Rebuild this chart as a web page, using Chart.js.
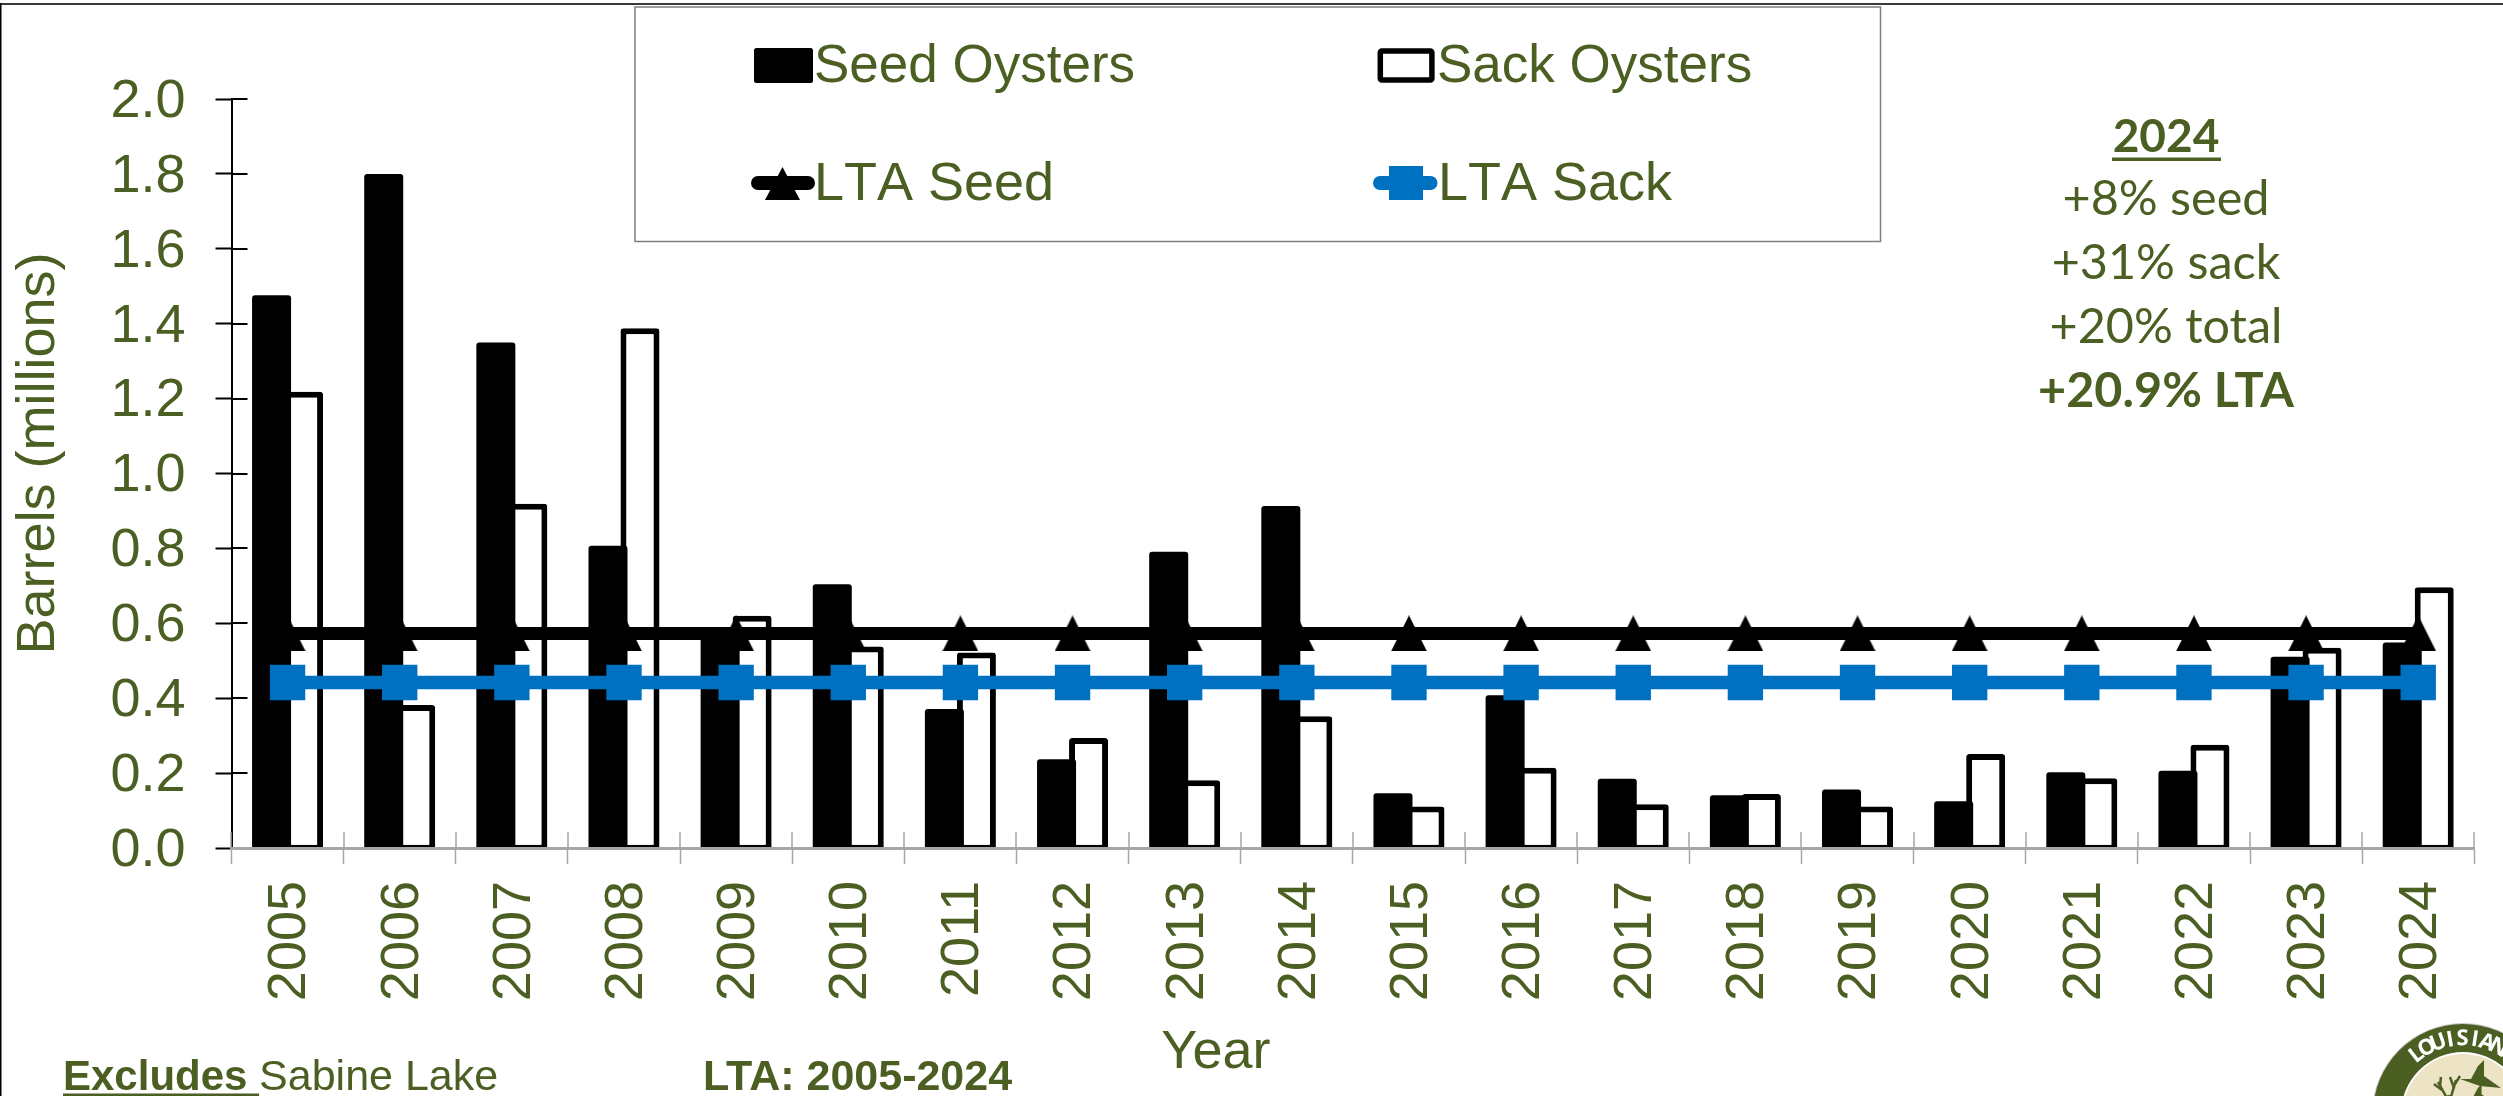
<!DOCTYPE html>
<html><head><meta charset="utf-8">
<style>html,body{margin:0;padding:0;background:#fff}canvas{display:block}</style>
<script src="https://cdn.jsdelivr.net/npm/chart.js@4"></script>
</head><body><canvas id="c" width="2503" height="1096" style="width:2503px;height:1096px"></canvas>
<script>
const years = ['2005','2006','2007','2008','2009','2010','2011','2012','2013','2014','2015','2016','2017','2018','2019','2020','2021','2022','2023','2024'];
const seedOysters = [1.476,1.80,1.35,0.807,0.58,0.704,0.371,0.237,0.791,0.913,0.146,0.408,0.185,0.141,0.156,0.125,0.202,0.206,0.511,0.549];
const sackOysters = [1.218,0.382,0.919,1.388,0.62,0.538,0.522,0.294,0.181,0.352,0.111,0.214,0.117,0.144,0.111,0.251,0.186,0.276,0.535,0.696];
const ltaSeed = [0.573,0.573,0.573,0.573,0.573,0.573,0.573,0.573,0.573,0.573,0.573,0.573,0.573,0.573,0.573,0.573,0.573,0.573,0.573,0.573];
const ltaSack = [0.442,0.442,0.442,0.442,0.442,0.442,0.442,0.442,0.442,0.442,0.442,0.442,0.442,0.442,0.442,0.442,0.442,0.442,0.442,0.442];
const yTicks = [0,0.2,0.4,0.6,0.8,1.0,1.2,1.4,1.6,1.8,2.0];
const seriesNames = ['Seed Oysters','Sack Oysters','LTA Seed','LTA Sack'];
const summaryLines = ['2024','+8% seed','+31% sack','+20% total','+20.9% LTA'];
const OLIVE = '#4B5F22', BLUE = '#0070C0', GREY = '#A6A6A6';
const SANS = '"Liberation Sans", Arial, sans-serif';

function triangleSprite(w, h) {
  const s = document.createElement('canvas'); s.width = w; s.height = h;
  const g = s.getContext('2d'); g.fillStyle = '#000';
  g.beginPath(); g.moveTo(w/2,0); g.lineTo(w,h); g.lineTo(0,h); g.closePath(); g.fill();
  return s;
}
const tri = triangleSprite(36,36);

function shiftTitle(scale, dx, dy) {
  if (scale.__shifted) return; scale.__shifted = true;
  const orig = scale.drawTitle;
  scale.drawTitle = function () { const c = this.ctx; c.save(); c.translate(dx, dy); orig.call(this); c.restore(); };
}

const decorations = {
  id: 'decorations',
  beforeDraw(chart) {
    const c = chart.ctx;
    c.save();
    c.fillStyle = '#fff'; c.fillRect(0,0,chart.width,chart.height);
    c.fillStyle = '#3a3a3a'; c.fillRect(0,3,chart.width,2);
    c.fillStyle = '#000'; c.fillRect(0,3,1.5,chart.height);
    c.restore();
    shiftTitle(chart.scales.x, -137, -10);
    shiftTitle(chart.scales.y, 7, -20);
  },
  beforeDatasetsDraw(chart) {
    const c = chart.ctx, {x, y} = chart.scales;
    c.save();
    c.strokeStyle = GREY; c.lineWidth = 1.5;
    const half = (x.getPixelForValue(1) - x.getPixelForValue(0)) / 2;
    years.forEach((_, i) => {
      const px = Math.round(x.getPixelForValue(i) - half);
      c.beginPath(); c.moveTo(px, y.bottom); c.lineTo(px, y.bottom - 16); c.stroke();
    });
    const last = Math.round(x.getPixelForValue(years.length-1) + half);
    c.beginPath(); c.moveTo(last, y.bottom); c.lineTo(last, y.bottom - 16); c.stroke();
    c.strokeStyle = '#000'; c.lineWidth = 2;
    yTicks.forEach(v => { if (v === 0) return;
      const py = Math.round(y.getPixelForValue(v));
      c.beginPath(); c.moveTo(x.left, py); c.lineTo(x.left + 16, py); c.stroke();
    });
    c.restore();
  },
  afterDraw(chart) {
    const c = chart.ctx;
    c.save();
    c.fillStyle = '#fff'; c.fillRect(635,7,1245.5,234.5);
    c.strokeStyle = '#7f7f7f'; c.lineWidth = 1.5; c.strokeRect(635,7,1245.5,234.5);
    c.fillStyle = '#000';
    c.beginPath(); c.roundRect(754,48,59,35,2.5); c.fill();
    c.strokeStyle = '#000'; c.lineWidth = 5.5; c.fillStyle = '#fff';
    c.beginPath(); c.roundRect(1380.3,51,51.6,29,1.5); c.fill(); c.stroke();
    c.lineCap = 'round'; c.lineWidth = 14;
    c.strokeStyle = '#000'; c.beginPath(); c.moveTo(758,183); c.lineTo(808,183); c.stroke();
    c.fillStyle = '#000'; c.beginPath(); c.moveTo(782.5,167); c.lineTo(800,200); c.lineTo(765,200); c.closePath(); c.fill();
    c.strokeStyle = BLUE; c.beginPath(); c.moveTo(1380,183); c.lineTo(1430.5,183); c.stroke();
    c.fillStyle = BLUE; c.fillRect(1389,166,34,34);
    c.lineCap = 'butt';
    c.fillStyle = OLIVE; c.textAlign = 'left'; c.textBaseline = 'alphabetic';
    c.font = '53px ' + SANS;
    c.fillText(seriesNames[0], 814, 82);
    c.fillText(seriesNames[1], 1437, 82);
    c.font = '54px ' + SANS; c.fontKerning = 'none';
    c.fillText(seriesNames[2], 814, 200);
    c.fillText(seriesNames[3], 1438, 200);
    c.fontKerning = 'auto';
    c.textAlign = 'center';
    const sx = 2166, base = [152,215,279,343,407];
    summaryLines.forEach((t, i) => {
      c.font = (i === 0 ? '700 46px' : i === 4 ? '700 48.5px' : '400 48.5px') + ' Lato, "Open Sans", sans-serif';
      c.fillText(t, sx, base[i]);
    });
    c.fillRect(2112,157.5,109,3.5);
    c.textAlign = 'left';
    c.font = '700 42px ' + SANS; c.fillText('Excludes ', 63, 1090);
    const w = c.measureText('Excludes ').width;
    c.fillRect(63,1093.5,w,2.5);
    c.font = '400 43px ' + SANS; c.fillText('Sabine Lake', 63 + w, 1090);
    c.font = '700 43px ' + SANS; c.fillText('LTA: 2005-2024', 703, 1090);
    const cx = 2463, cy = 1114;
    c.fillStyle = '#c9c9c9'; c.beginPath(); c.arc(cx,cy,91,0,Math.PI*2); c.fill();
    c.fillStyle = OLIVE; c.beginPath(); c.arc(cx,cy,90,0,Math.PI*2); c.fill();
    c.fillStyle = '#fff'; c.beginPath(); c.arc(cx,cy,62,0,Math.PI*2); c.fill();
    c.fillStyle = '#EDE3C5'; c.beginPath(); c.arc(cx,cy,60,0,Math.PI*2); c.fill();
    c.fillStyle = '#fff'; c.font = '700 22px "Open Sans", sans-serif'; c.textAlign = 'center'; c.textBaseline = 'middle';
    'LOUISIANA'.split('').forEach((ch, i) => {
      const a = (-38 + i * 9.4) * Math.PI / 180;
      c.save(); c.translate(cx + 75*Math.sin(a), cy - 75*Math.cos(a)); c.rotate(a); c.fillText(ch,0,0); c.restore();
    });
    c.fillStyle = OLIVE; c.strokeStyle = OLIVE;
    const duck = (x,y,s) => { c.beginPath();
      c.moveTo(x-15*s,y-3*s); c.lineTo(x-4*s,y-3*s); c.lineTo(x+3*s,y-16*s); c.lineTo(x+9*s,y-22*s); c.lineTo(x+9*s,y-6*s);
      c.lineTo(x+26*s,y+6*s); c.lineTo(x+5*s,y+4*s); c.closePath(); c.fill(); };
    duck(2475,1082,1); duck(2476,1098,0.62);
    c.lineWidth = 2.5;
    [[2448,1100,2438,1082],[2442,1090,2434,1084],[2440,1086,2441,1077],[2450,1100,2456,1080],[2454,1088,2450,1077],[2455,1084,2460,1076]].forEach(p => {
      c.beginPath(); c.moveTo(p[0],p[1]); c.lineTo(p[2],p[3]); c.stroke(); });
    c.beginPath(); c.ellipse(2449,1104,7,9,0,0,Math.PI*2); c.fill();
    c.restore();
  }
};

new Chart(document.getElementById('c'), {
  type: 'bar',
  plugins: [decorations],
  data: {
    labels: years,
    datasets: [
      { label: seriesNames[0], data: seedOysters, order: 3, backgroundColor:'#000', borderColor:'#000',
        borderWidth: 0, borderSkipped:false, borderRadius:{topLeft:3,topRight:3}, inflateAmount:0,
        base:-0.005, clip:false, categoryPercentage:0.5707, barPercentage:1.219 },
      { label: seriesNames[1], data: sackOysters, order: 4, backgroundColor:'#fff', borderColor:'#000',
        borderWidth: {top:6,left:6,right:6,bottom:5}, borderSkipped:false, borderRadius:{topLeft:3,topRight:3}, inflateAmount:0,
        base:-0.005, clip:false, categoryPercentage:0.5707, barPercentage:1.219 },
      { type:'line', label: seriesNames[2], data: ltaSeed, order: 2, borderColor:'#000', borderWidth: 13, backgroundColor:'#000',
        pointStyle: tri, pointRadius: 18, pointHoverRadius: 18, pointBorderWidth: 0, tension: 0, clip:false },
      { type:'line', label: seriesNames[3], data: ltaSack, order: 1, borderColor: BLUE, borderWidth: 13.5, backgroundColor: BLUE,
        pointStyle:'rect', pointRadius: 25, pointHoverRadius: 25, pointBackgroundColor: BLUE, pointBorderWidth: 0, tension: 0, clip:false }
    ]
  },
  options: {
    responsive:false, animation:false, devicePixelRatio:1,
    layout:{ padding:{ left:0, top:99, right:28.7, bottom:0 } },
    plugins:{ legend:{display:false}, title:{display:false}, tooltip:{enabled:false} },
    scales:{
      x:{ stacked:false,
        grid:{ offset:true, drawOnChartArea:false, drawTicks:true, tickLength:16, tickWidth:1.5, tickColor:GREY },
        border:{ display:true, color:GREY, width:3, z:1 },
        ticks:{ color:OLIVE, font:{family:SANS,size:54}, minRotation:90, maxRotation:90, padding:17, labelOffset:3, autoSkip:false },
        title:{ display:true, text:'Year', color:OLIVE, font:{family:SANS,size:54}, padding:0 },
        afterFit(s){ s.height = 248; }
      },
      y:{ min:0, max:2, afterBuildTicks(s){ s.ticks = yTicks.map(v => ({value:v})); },
        grid:{ drawOnChartArea:false, drawTicks:true, tickLength:16, tickWidth:2, tickColor:'#000' },
        border:{ display:true, color:'#000', width:2 },
        ticks:{ color:OLIVE, font:{family:SANS,size:54}, padding:30, labelOffset:3, callback:v => Number(v).toFixed(1) },
        title:{ display:true, text:'Barrels (millions)', color:OLIVE, font:{family:SANS,size:54}, padding:0 },
        afterFit(s){ s.width = 231.5; }
      }
    }
  }
});
</script></body></html>
